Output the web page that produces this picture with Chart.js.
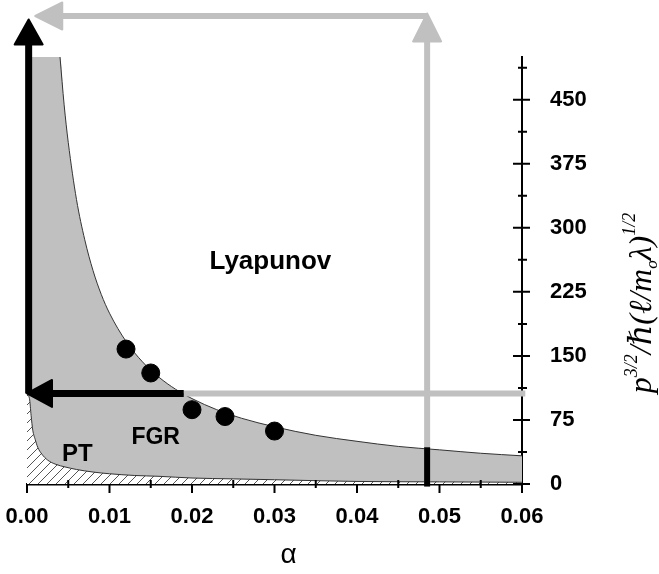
<!DOCTYPE html>
<html>
<head>
<meta charset="utf-8">
<script src="https://cdn.jsdelivr.net/npm/chart.js@4.4.1/dist/chart.umd.min.js"></script>
<style>
  html, body { margin: 0; padding: 0; background: #fff; }
  #wrap { width: 659px; height: 574px; }
</style>
</head>
<body>
<div id="wrap"><canvas id="chart"></canvas></div>
<script>
// ---- data ----
// upper boundary of the FGR region (gray); first point closes the top edge
const upperAlpha = [0, 0.004, 0.0045, 0.005, 0.006, 0.007, 0.008, 0.009, 0.010, 0.012, 0.014, 0.016, 0.018, 0.020, 0.023, 0.026, 0.030, 0.035, 0.040, 0.045, 0.050, 0.055, 0.060];
const upperP     = [500, 500, 444, 400, 333, 286, 250, 222, 200, 167, 143, 125, 111, 100, 87, 77, 67, 57, 50, 44, 40, 36, 33];

// upper boundary of the PT region (hatched)
const lowerAlpha = [0, 0.0003, 0.0005, 0.0007, 0.001, 0.0013, 0.0018, 0.0025, 0.0035, 0.0046, 0.006, 0.008, 0.010, 0.013, 0.016, 0.020, 0.025, 0.030, 0.040, 0.050, 0.060];
const lowerP     = [105, 100, 80, 63, 52, 43, 35, 28, 23, 20, 17, 14, 12, 10, 9, 7, 6, 5, 3, 2.5, 2];

// numerical points
const pointAlpha = [0.012, 0.015, 0.020, 0.024, 0.030];
const pointP     = [158, 130, 87, 79, 62];

// guide lines and arrows
const blackUpAlpha   = [0.0002, 0.0002];
const blackUpP       = [106, 544];
const blackLeftAlpha = [0.019, 0];
const blackLeftP     = [106, 106];
const grayUpAlpha    = [0.0485, 0.0485];
const grayUpP        = [0, 551];
const grayLeftAlpha  = [0.0485, 0.001];
const grayLeftP      = [548, 548];
const grayLevelAlpha = [0.019, 0.0604];
const grayLevelP     = [106, 106];
const markAlpha      = [0.0485, 0.0485];
const markP          = [-3, 43];

// axes
const xMajor = [0, 0.01, 0.02, 0.03, 0.04, 0.05, 0.06];
const xMinor = [0.005, 0.015, 0.025, 0.035, 0.045, 0.055];
const xTickLabels = ['0.00', '0.01', '0.02', '0.03', '0.04', '0.05', '0.06'];
const yMajor = [0, 75, 150, 225, 300, 375, 450];
const yMinor = [37.5, 112.5, 187.5, 262.5, 337.5, 412.5, 487.5];
const yTickLabels = ['0', '75', '150', '225', '300', '375', '450'];

// region labels
const regionLabels = ['Lyapunov', 'FGR', 'PT'];
const regionAlpha  = [0.0295, 0.0156, 0.0061];
const regionP      = [260, 54, 35];
const regionSize   = [26, 23, 24];

const GRAY = '#c0c0c0';
const SANS = '"Liberation Sans", Arial, sans-serif';
const SERIF = '"Liberation Serif", "DejaVu Serif", serif';

const pts = (xs, ys) => xs.map((x, i) => ({ x, y: ys[i] }));

// hatch pattern for the PT region
const makeHatch = () => {
  const s = 9;
  const c = document.createElement('canvas');
  c.width = s; c.height = s;
  const p = c.getContext('2d');
  p.fillStyle = '#fff';
  p.fillRect(0, 0, s, s);
  p.strokeStyle = '#555';
  p.lineWidth = 1;
  p.beginPath();
  p.moveTo(0, s); p.lineTo(s, 0);
  p.moveTo(-2, 2); p.lineTo(2, -2);
  p.moveTo(s - 2, s + 2); p.lineTo(s + 2, s - 2);
  p.stroke();
  return p.createPattern(c, 'repeat');
};

// arrows, ticks, labels and the axis titles
const overlay = {
  id: 'overlay',
  afterDatasetDraw(chart, args) {
    const ds = chart.data.datasets[args.index];
    if (!ds.arrow) return;
    const a = ds.arrow;
    const el = args.meta.data;
    const n = el.length;
    const tip = el[n - 1], prev = el[n - 2];
    const dx = tip.x - prev.x, dy = tip.y - prev.y;
    const len = Math.hypot(dx, dy);
    const ux = dx / len, uy = dy / len;
    const head = a.head || 0;
    const ctx = chart.ctx;
    ctx.save();
    ctx.strokeStyle = a.color;
    ctx.fillStyle = a.color;
    ctx.lineWidth = a.width;
    ctx.lineCap = 'butt';
    ctx.beginPath();
    ctx.moveTo(el[0].x, el[0].y);
    for (let i = 1; i < n - 1; i++) ctx.lineTo(el[i].x, el[i].y);
    if (head) ctx.lineTo(tip.x - ux * (head - 1), tip.y - uy * (head - 1));
    else ctx.lineTo(tip.x, tip.y);
    ctx.stroke();
    if (head) {
      const hw = a.headWidth / 2;
      const bx = tip.x - ux * head, by = tip.y - uy * head;
      ctx.lineWidth = 2;
      ctx.lineJoin = 'round';
      ctx.beginPath();
      ctx.moveTo(tip.x, tip.y);
      ctx.lineTo(bx - uy * hw, by + ux * hw);
      ctx.lineTo(bx + uy * hw, by - ux * hw);
      ctx.closePath();
      ctx.fill();
      ctx.stroke();
    }
    ctx.restore();
  },
  afterDraw(chart) {
    const { ctx, chartArea } = chart;
    const xs = chart.scales.x, ys = chart.scales.y;
    const x0 = chartArea.bottom, yR = chartArea.right;
    ctx.save();
    ctx.strokeStyle = '#000';
    ctx.lineWidth = 2;
    ctx.beginPath();
    xMajor.forEach(v => { const px = xs.getPixelForValue(v); ctx.moveTo(px, x0); ctx.lineTo(px, x0 + 9); });
    xMinor.forEach(v => { const px = xs.getPixelForValue(v); ctx.moveTo(px, x0 - 4); ctx.lineTo(px, x0 + 4); });
    yMajor.forEach(v => { const py = ys.getPixelForValue(v); ctx.moveTo(yR - 9, py); ctx.lineTo(yR + 8, py); });
    yMinor.forEach(v => { const py = ys.getPixelForValue(v); ctx.moveTo(yR - 4, py); ctx.lineTo(yR + 5, py); });
    ctx.stroke();

    // region labels
    ctx.fillStyle = '#000';
    ctx.textAlign = 'center';
    ctx.textBaseline = 'middle';
    regionLabels.forEach((t, i) => {
      ctx.font = `bold ${regionSize[i]}px ${SANS}`;
      ctx.fillText(t, xs.getPixelForValue(regionAlpha[i]), ys.getPixelForValue(regionP[i]));
    });

    // x title
    ctx.font = `28px ${SANS}`;
    ctx.fillText('\u03B1', xs.getPixelForValue(0.0317), 555);

    // y title, rotated, with super/subscripts
    const parts = [
      { t: 'p', s: 32, d: 0 },
      { t: '3/2', s: 18, d: -14 },
      { t: '/\u210F(\u2113/m', s: 32, d: 0 },
      { t: 'o', s: 17, d: 6 },
      { t: '\u03BB)', s: 32, d: 0 },
      { t: '1/2', s: 18, d: -16 }
    ];
    let total = 0;
    parts.forEach(p => {
      ctx.font = `italic ${p.s}px ${SERIF}`;
      p.w = ctx.measureText(p.t).width;
      total += p.w;
    });
    ctx.translate(651, 303);
    ctx.rotate(-Math.PI / 2);
    ctx.textAlign = 'left';
    ctx.textBaseline = 'alphabetic';
    let cx = -total / 2;
    parts.forEach(p => {
      ctx.font = `italic ${p.s}px ${SERIF}`;
      ctx.fillText(p.t, cx, p.d);
      cx += p.w;
    });
    ctx.restore();
  }
};

const hatch = makeHatch();

new Chart(document.getElementById('chart'), {
  type: 'scatter',
  data: {
    datasets: [
      {
        data: pts(pointAlpha, pointP),
        order: 0,
        pointRadius: 9,
        pointBackgroundColor: '#000',
        pointBorderColor: '#000',
        showLine: false
      },
      {
        data: pts(markAlpha, markP),
        order: 1, clip: false, showLine: false, pointRadius: 0,
        arrow: { color: '#000', width: 6 }
      },
      {
        data: pts(blackLeftAlpha, blackLeftP),
        order: 2, clip: false, showLine: false, pointRadius: 0,
        arrow: { color: '#000', width: 7, head: 25, headWidth: 27 }
      },
      {
        data: pts(blackUpAlpha, blackUpP),
        order: 2, clip: false, showLine: false, pointRadius: 0,
        arrow: { color: '#000', width: 7, head: 25, headWidth: 28 }
      },
      {
        data: pts(grayUpAlpha, grayUpP),
        order: 3, clip: false, showLine: false, pointRadius: 0,
        arrow: { color: GRAY, width: 6, head: 28, headWidth: 28 }
      },
      {
        data: pts(grayLeftAlpha, grayLeftP),
        order: 3, clip: false, showLine: false, pointRadius: 0,
        arrow: { color: GRAY, width: 6, head: 27, headWidth: 27 }
      },
      {
        data: pts(grayLevelAlpha, grayLevelP),
        order: 3, clip: false, showLine: false, pointRadius: 0,
        arrow: { color: GRAY, width: 6 }
      },
      {
        // PT boundary with hatched fill
        data: pts(lowerAlpha, lowerP),
        order: 4,
        showLine: true,
        pointRadius: 0,
        borderColor: '#333',
        borderWidth: 1,
        cubicInterpolationMode: 'monotone',
        fill: 'origin',
        backgroundColor: hatch
      },
      {
        // FGR boundary curve (outline only)
        data: pts(upperAlpha.slice(1), upperP.slice(1)),
        order: 5,
        showLine: true,
        pointRadius: 0,
        borderColor: '#333',
        borderWidth: 1,
        cubicInterpolationMode: 'monotone',
        fill: false
      },
      {
        // FGR region fill
        data: pts(upperAlpha, upperP),
        order: 6,
        showLine: true,
        pointRadius: 0,
        borderWidth: 0,
        borderColor: 'rgba(0,0,0,0)',
        cubicInterpolationMode: 'monotone',
        fill: 'origin',
        backgroundColor: GRAY
      }
    ]
  },
  options: {
    responsive: true,
    maintainAspectRatio: false,
    animation: false,
    events: [],
    layout: { padding: { top: 57, left: 27, right: 0, bottom: 0 } },
    plugins: {
      legend: { display: false },
      tooltip: { enabled: false }
    },
    scales: {
      x: {
        type: 'linear',
        min: 0,
        max: 0.06,
        afterBuildTicks: s => { s.ticks = xMajor.map(v => ({ value: v })); },
        afterFit: s => { s.height = 90; s.paddingLeft = 0; s.paddingRight = 0; },
        grid: { display: false, drawTicks: false },
        border: { display: true, color: '#000', width: 2.5 },
        ticks: {
          color: '#000',
          padding: 20,
          maxRotation: 0,
          font: { family: SANS, size: 22, weight: 'bold' },
          callback: (v, i) => xTickLabels[i]
        }
      },
      y: {
        type: 'linear',
        position: 'right',
        min: 0,
        max: 500,
        afterBuildTicks: s => { s.ticks = yMajor.map(v => ({ value: v })); },
        afterFit: s => { s.width = 137; s.paddingTop = 0; s.paddingBottom = 0; },
        grid: { display: false, drawTicks: false },
        border: { display: true, color: '#000', width: 2 },
        ticks: {
          color: '#000',
          padding: 28,
          font: { family: SANS, size: 22, weight: 'bold' },
          callback: (v, i) => yTickLabels[i]
        }
      }
    }
  },
  plugins: [overlay]
});
</script>
</body>
</html>
